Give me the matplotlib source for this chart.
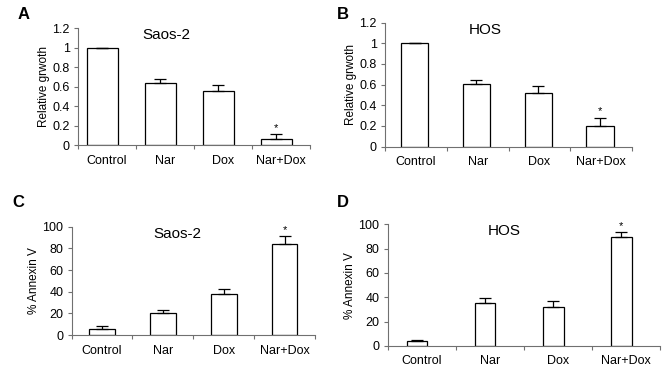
import numpy as np
import matplotlib
matplotlib.use("Agg")
import matplotlib.pyplot as plt

plt.rcParams['font.family'] = ['Liberation Sans', 'DejaVu Sans']

groups = ['Control', 'Nar', 'Dox', 'Nar+Dox']

saos_growth = [1.0, 0.64, 0.55, 0.06]
saos_growth_err = [0.0, 0.04, 0.07, 0.05]
hos_growth = [1.0, 0.61, 0.52, 0.20]
hos_growth_err = [0.0, 0.035, 0.07, 0.08]

saos_annexin = [5.5, 20, 37.5, 84]
saos_annexin_err = [2.5, 3, 5, 7]
hos_annexin = [4, 35, 32, 90]
hos_annexin_err = [1, 4, 5, 3.5]

# star marks the significant group
star_idx = 3


def draw_panel(ax, vals, errs, title, ylabel, ymax, ystep, width, offset, title_x, fmt):
    x = np.arange(len(groups))
    ax.bar(x + offset, vals, width=width, color='white', edgecolor='black', linewidth=0.9, zorder=2)
    ax.errorbar(x + offset, vals, yerr=[np.zeros(len(errs)), errs], fmt='none',
                ecolor='black', elinewidth=0.9, capsize=4.5, capthick=0.9, zorder=3)
    ax.text(x[star_idx] + offset, vals[star_idx] + errs[star_idx] + ymax * 0.012, '*',
            ha='center', va='bottom', fontsize=8)
    ax.set_xlim(-0.5, 3.5)
    ax.set_ylim(0, ymax)
    ax.set_yticks(np.arange(0, ymax + ystep / 2, ystep))
    ax.yaxis.set_major_formatter(fmt)
    ax.set_xticks(x)
    ax.set_xticklabels(groups)
    ax.set_xticks(np.arange(-0.5, 4, 1), minor=True)
    ax.tick_params(axis='x', which='major', length=0, labelsize=9, pad=7)
    ax.tick_params(axis='x', which='minor', length=3, color='#707070', width=0.8)
    ax.tick_params(axis='y', length=3, labelsize=9, color='#707070', width=0.8, pad=3)
    for s in ['top', 'right']:
        ax.spines[s].set_visible(False)
    for s in ['left', 'bottom']:
        ax.spines[s].set_color('#707070')
        ax.spines[s].set_linewidth(0.8)
    ax.set_ylabel(ylabel, fontsize=8.5, labelpad=1.5)
    ax.text(title_x, ymax * 1.0, title, ha='center', va='top', fontsize=11)


def fmt_growth(v, pos):
    return ('%g' % round(v, 2))


def fmt_pct(v, pos):
    return '%d' % v


fig = plt.figure(figsize=(6.69, 3.71), dpi=100)

axA = fig.add_axes([0.1166, 0.609, 0.3464, 0.315])
axB = fig.add_axes([0.5755, 0.605, 0.3695, 0.334])
axC = fig.add_axes([0.107, 0.097, 0.364, 0.292])
axD = fig.add_axes([0.5795, 0.068, 0.4075, 0.327])

draw_panel(axA, saos_growth, saos_growth_err, 'Saos-2', 'Relative grwoth', 1.2, 0.2,
           0.54, -0.08, 1.03, plt.FuncFormatter(fmt_growth))
draw_panel(axB, hos_growth, hos_growth_err, 'HOS', 'Relative grwoth', 1.2, 0.2,
           0.44, -0.02, 1.13, plt.FuncFormatter(fmt_growth))
draw_panel(axC, saos_annexin, saos_annexin_err, 'Saos-2', '% Annexin V', 100, 20,
           0.42, 0.0, 1.23, plt.FuncFormatter(fmt_pct))
draw_panel(axD, hos_annexin, hos_annexin_err, 'HOS', '% Annexin V', 100, 20,
           0.3, -0.07, 1.21, plt.FuncFormatter(fmt_pct))

for lbl, xx, yy in [('A', 0.027, 0.96), ('B', 0.503, 0.96), ('C', 0.018, 0.455), ('D', 0.503, 0.455)]:
    fig.text(xx, yy, lbl, fontsize=12, fontweight='bold', ha='left', va='center')

fig.savefig('out.png', dpi=100)
